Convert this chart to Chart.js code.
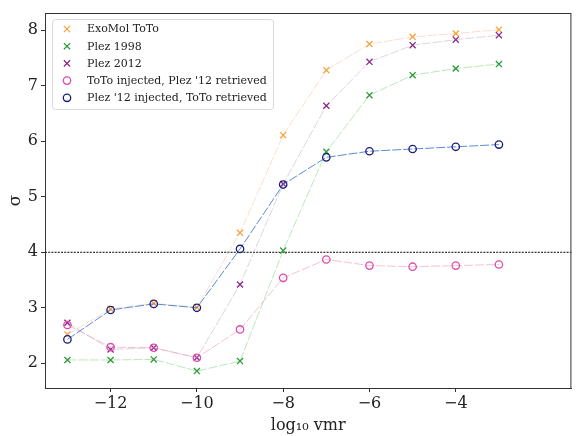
<!DOCTYPE html>
<html lang="en">
<head>
  <meta charset="UTF-8">
  <title>Detection significance vs vmr</title>
  <script src="https://cdn.jsdelivr.net/npm/chart.js@4.4.1/dist/chart.umd.min.js"></script>
  <style>
    body {
      margin: 0;
      background-color: #fff;
    }
    .chart-container {
      width: 577px;
      height: 436px;
      position: relative;
    }
  </style>
</head>
<body>
  <div class="chart-container">
    <canvas id="myChart"></canvas>
  </div>
  <script>
    // log10 vmr grid
    const logVmr = [-13, -12, -11, -10, -9, -8, -7, -6, -5, -4, -3];

    // sigma values
    const exomolToto = [2.52, 2.98, 3.08, 3.01, 4.35, 6.11, 7.28, 7.75, 7.88, 7.94, 8.01];
    const plez1998   = [2.06, 2.06, 2.07, 1.86, 2.04, 4.03, 5.81, 6.83, 7.19, 7.31, 7.39];
    const plez2012   = [2.73, 2.25, 2.28, 2.10, 3.42, 5.23, 6.64, 7.43, 7.73, 7.83, 7.91];
    const totoInjPlezRet = [2.69, 2.29, 2.28, 2.10, 2.61, 3.54, 3.87, 3.76, 3.74, 3.76, 3.78];
    const plezInjTotoRet = [2.43, 2.96, 3.07, 3.00, 4.06, 5.22, 5.71, 5.82, 5.86, 5.90, 5.94];

    const xTicks = [-12, -10, -8, -6, -4];
    const yTicks = [2, 3, 4, 5, 6, 7, 8];
    const threshold = 4;

    const series = [
      { label: 'ExoMol ToTo', values: exomolToto, marker: 'crossRot', color: '#f7a23c', line: 'rgba(247,170,140,0.4)' },
      { label: 'Plez 1998', values: plez1998, marker: 'crossRot', color: '#2e9a3a', line: 'rgba(120,210,120,0.5)' },
      { label: 'Plez 2012', values: plez2012, marker: 'crossRot', color: '#8a2a8a', line: 'rgba(170,150,170,0.4)' },
      { label: "ToTo injected, Plez '12 retrieved", values: totoInjPlezRet, marker: 'circle', color: '#e04aa8', line: 'rgba(240,160,190,0.65)' },
      { label: "Plez '12 injected, ToTo retrieved", values: plezInjTotoRet, marker: 'circle', color: '#1c1c7a', line: 'rgba(60,120,200,0.85)' }
    ];

    const serif = '"DejaVu Serif", serif';

    const datasets = series.map((s, i) => ({
      label: s.label,
      data: logVmr.map((x, j) => ({ x: x, y: s.values[j] })),
      showLine: true,
      borderColor: s.line,
      borderWidth: 1,
      borderDash: [9, 2],
      pointStyle: s.marker,
      pointRadius: s.marker === 'circle' ? 3.7 : 4.3,
      pointBorderColor: s.color,
      pointBackgroundColor: 'rgba(0,0,0,0)',
      pointBorderWidth: 1.3,
      order: series.length - 1 - i
    }));

    // black dotted threshold line, spines and legend box
    const extras = {
      id: 'extras',
      beforeDatasetsDraw(chart) {
        const { ctx, chartArea: a, scales } = chart;
        const y = scales.y.getPixelForValue(threshold);
        ctx.save();
        ctx.strokeStyle = '#000';
        ctx.lineWidth = 1;
        ctx.setLineDash([2, 1.2]);
        ctx.beginPath();
        ctx.moveTo(a.left, y);
        ctx.lineTo(a.right, y);
        ctx.stroke();
        ctx.restore();
      },
      afterDatasetsDraw(chart) {
        const { ctx, chartArea: a } = chart;
        ctx.save();
        ctx.strokeStyle = '#333';
        ctx.lineWidth = 1;
        ctx.strokeRect(a.left + 0.5, a.top + 0.5, a.right - a.left - 1, a.bottom - a.top);

        // legend
        const bx = 52, by = 19, bw = 221, bh = 90;
        ctx.fillStyle = 'rgba(255,255,255,0.8)';
        ctx.strokeStyle = '#d8d8d8';
        ctx.beginPath();
        ctx.roundRect(bx + 0.5, by + 0.5, bw, bh, 3);
        ctx.fill();
        ctx.stroke();
        ctx.font = '11px ' + serif;
        ctx.textBaseline = 'middle';
        series.forEach((s, i) => {
          const cy = by + 10 + i * 17.2;
          const cx = 67;
          ctx.strokeStyle = s.color;
          ctx.lineWidth = 1.3;
          ctx.beginPath();
          if (s.marker === 'circle') {
            ctx.arc(cx, cy, 3.7, 0, Math.PI * 2);
          } else {
            const r = 3.1;
            ctx.moveTo(cx - r, cy - r); ctx.lineTo(cx + r, cy + r);
            ctx.moveTo(cx + r, cy - r); ctx.lineTo(cx - r, cy + r);
          }
          ctx.stroke();
          ctx.fillStyle = '#222';
          ctx.fillText(s.label, 87, cy + 0.5);
        });
        ctx.restore();
      }
    };

    const ctx = document.getElementById('myChart').getContext('2d');
    const myChart = new Chart(ctx, {
      type: 'scatter',
      data: { datasets: datasets },
      options: {
        responsive: true,
        maintainAspectRatio: false,
        animation: false,
        layout: { padding: { top: 13, right: 1, left: 5, bottom: 0 } },
        plugins: {
          legend: { display: false },
          tooltip: { enabled: false }
        },
        scales: {
          x: {
            type: 'linear',
            min: -13.52,
            max: -1.32,
            afterBuildTicks: (scale) => { scale.ticks = xTicks.map(v => ({ value: v })); },
            afterFit: (scale) => { scale.height = 48; },
            ticks: {
              font: { family: serif, size: 16 },
              color: '#222',
              padding: 2,
              maxRotation: 0,
              callback: (v) => String(v).replace('-', '\u2212')
            },
            grid: { drawOnChartArea: false, tickLength: 4, tickColor: '#333' },
            border: { display: true, color: '#333' },
            title: {
              display: true,
              text: 'log\u2081\u2080 vmr',
              font: { family: serif, size: 16 },
              color: '#222',
              padding: { top: 0, bottom: 1 }
            }
          },
          y: {
            type: 'linear',
            min: 1.555,
            max: 8.31,
            afterBuildTicks: (scale) => { scale.ticks = yTicks.map(v => ({ value: v })); },
            afterFit: (scale) => { scale.width = 40; },
            ticks: {
              font: { family: serif, size: 16 },
              color: '#222',
              padding: 3
            },
            grid: { drawOnChartArea: false, tickLength: 4, tickColor: '#333' },
            border: { display: true, color: '#333' },
            title: {
              display: true,
              text: '\u03c3',
              font: { family: serif, size: 17 },
              color: '#222',
              padding: { top: 0, bottom: 0 }
            }
          }
        }
      },
      plugins: [extras]
    });
  </script>
</body>
</html>
